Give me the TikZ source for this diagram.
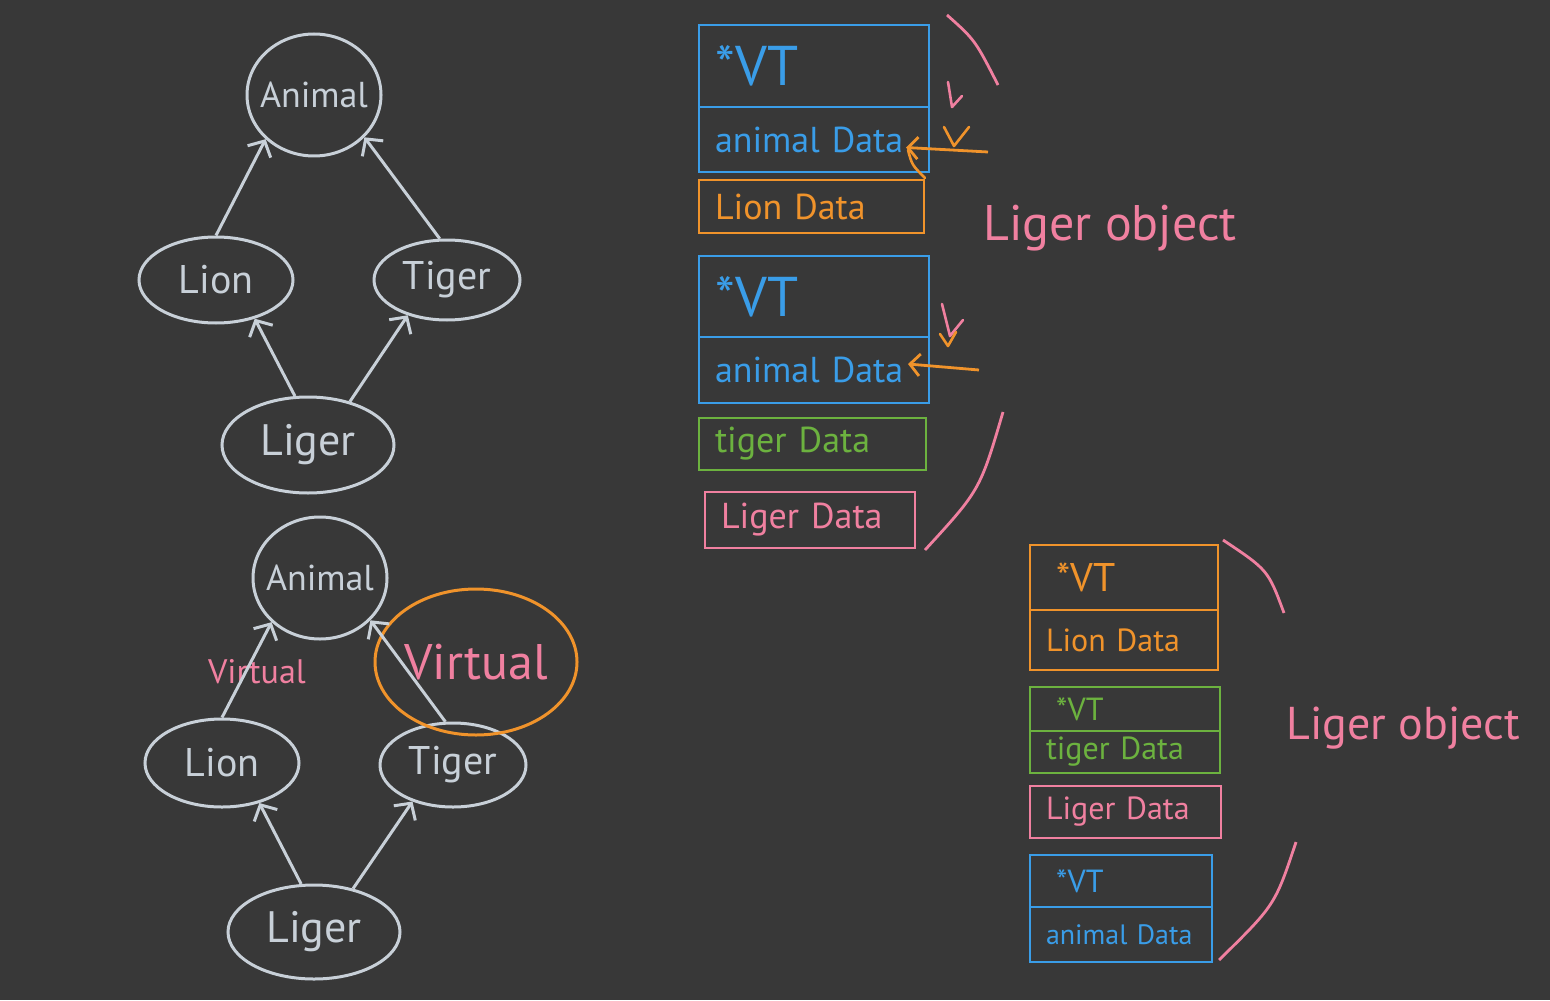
\documentclass[tikz,border=0pt]{standalone}
\usepackage{fontspec}
\setmainfont{PT Sans}
\usetikzlibrary{shapes,positioning,arrows.meta}
\definecolor{board}{HTML}{383838}
\definecolor{chalk}{HTML}{C8D0D8}
\definecolor{blueC}{HTML}{3A9DE8}
\definecolor{orangeC}{HTML}{F0932B}
\definecolor{greenC}{HTML}{6CB23F}
\definecolor{pinkC}{HTML}{F080A0}
\newcommand{\vtbig}{\fontsize{28}{30}\selectfont}
\newcommand{\databig}{\fontsize{18}{20}\selectfont}
\newcommand{\vtsmall}{\fontsize{20}{22}\selectfont}
\newcommand{\datasmall}{\fontsize{16}{18}\selectfont}

\begin{document}
\begin{tikzpicture}[
    x=0.5pt,y=-0.5pt,
    cls/.style={ellipse,draw=chalk,text=chalk,line width=1.5pt,inner xsep=-10pt,inner ysep=0pt,font=\fontsize{20}{24}\selectfont},
    inh/.style={chalk,line width=1.5pt,-{Straight Barb[length=6pt,width=13pt]}},
    cell/.style={rectangle,draw,line width=1.4pt,anchor=north west,outer sep=0pt,inner xsep=8pt,inner ysep=0pt,text width=#1,align=left},
    cell/.default=99pt,
    note/.style={pinkC,font=\fontsize{25}{28}\selectfont},
    brace/.style={pinkC,line width=1.4pt},
    scribble/.style={line width=1.3pt,line cap=round,line join=round},
    ptr/.style={orangeC,line width=1.4pt,-{Straight Barb[length=5pt,width=11pt]}}
    ]
        \useasboundingbox [fill=board] (0,0) rectangle (1550,1000);

        % plain diamond
        \node [cls,minimum width=67pt,minimum height=61pt,font=\fontsize{18}{22}\selectfont](animal) at (314,95) {Animal};
        \node [cls,minimum width=77pt,minimum height=43pt](lion) at (216,280) {Lion};
        \node [cls,minimum width=73pt,minimum height=40pt](tiger) at (447,280) {Tiger};
        \node [cls,minimum width=86pt,minimum height=48pt,font=\fontsize{22}{26}\selectfont](liger) at (308,445) {Liger};
        \draw [inh] (lion.north) -- (animal.south west);
        \draw [inh] (tiger.100) -- (animal.-40);
        \draw [inh] (liger.105) -- (lion.-45);
        \draw [inh] (liger.46) -- (tiger.-138);

        % virtual diamond
        \node [cls,minimum width=67pt,minimum height=61pt,font=\fontsize{18}{22}\selectfont](animal2) at (320,578) {Animal};
        \node [cls,minimum width=77pt,minimum height=44pt](lion2) at (222,763) {Lion};
        \node [cls,minimum width=73pt,minimum height=42pt](tiger2) at (453,765) {Tiger};
        \node [cls,minimum width=86pt,minimum height=47pt,font=\fontsize{22}{26}\selectfont](liger2) at (314,932) {Liger};
        \node [pinkC,font=\fontsize{17}{20}\selectfont](virtA) at (257,672) {Virtual};
        \node [ellipse,draw=orangeC,line width=1.5pt,text=pinkC,inner xsep=-12pt,inner ysep=0pt,minimum width=101pt,minimum height=73pt,font=\fontsize{25}{28}\selectfont](virtB) at (476,662) {Virtual};
        \draw [inh] (lion2.north) -- (animal2.south west);
        \draw [inh] (tiger2.100) -- (animal2.-40);
        \draw [inh] (liger2.105) -- (lion2.-47);
        \draw [inh] (liger2.48) -- (tiger2.-138);

        % first layout
        \node [cell,blueC,minimum height=41pt,font=\vtbig](vtA) at (699,25) {*VT};
        \node [cell,blueC,minimum height=32.5pt,font=\databig](adA) [below=0pt of vtA.south west,anchor=north west] {animal Data};
        \node [cell=96.5pt,orangeC,minimum height=26.5pt,font=\databig](ldA) [below=4pt of adA.south west,anchor=north west] {Lion Data};
        \node [cell,blueC,minimum height=40.5pt,font=\vtbig](vtB) [below=11.5pt of ldA.south west,anchor=north west] {*VT};
        \node [cell,blueC,minimum height=33pt,font=\databig](adB) [below=0pt of vtB.south west,anchor=north west] {animal Data};
        \node [cell=97.5pt,greenC,minimum height=26pt,font=\databig](tdA) [below=7.5pt of adB.south west,anchor=north west] {tiger Data};
        \node [cell=89pt,pinkC,minimum height=28pt,font=\databig](gdA) [below=11pt of tdA.south west,anchor=north west,xshift=3pt] {Liger Data};
        \node [note](objA) at (1110,228) {Liger object};
        \draw [brace] (947,15) .. controls (975,40) .. (998,85);
        \draw [brace] (1003,412) .. controls (980,490) .. (925,550);
        \coordinate (pA) at (988,152);
        \coordinate (pB) at (979,370);
        \draw [ptr] (pA) -- ([xshift=-11.5pt,yshift=-4pt]adA.east);
        \draw [ptr] (pB) -- ([xshift=-10.5pt,yshift=3pt]adB.east);
        \draw [scribble,orangeC] (908,150) .. controls (912,165) .. (925,178);
        \draw [scribble,orangeC] (944,127) -- (954,146) -- (969,127);
        \draw [scribble,pinkC] (948,82) -- (952,107) -- (962,96);
        \draw [scribble,pinkC] (942,304) -- (950,336) -- (963,320);
        \draw [scribble,orangeC] (940,334) -- (948,346) -- (956,332);

        % second layout
        \node [cell=78pt,orangeC,minimum height=32.5pt,font=\vtsmall](vtC) at (1030,545) {\hspace{5pt}*VT};
        \node [cell=78pt,orangeC,minimum height=30pt,font=\datasmall](ldB) [below=0pt of vtC.south west,anchor=north west] {Lion Data};
        \node [cell=79pt,greenC,minimum height=22pt,font=\datasmall](vtD) [below=8.5pt of ldB.south west,anchor=north west] {\hspace{5pt}*VT};
        \node [cell=79pt,greenC,minimum height=21pt,font=\datasmall](tdB) [below=0pt of vtD.south west,anchor=north west] {tiger Data};
        \node [cell=79.5pt,pinkC,minimum height=26pt,font=\datasmall](gdB) [below=6.5pt of tdB.south west,anchor=north west] {Liger Data};
        \node [cell=75pt,blueC,minimum height=26pt,font=\datasmall](vtE) [below=8.5pt of gdB.south west,anchor=north west] {\hspace{5pt}*VT};
        \node [cell=75pt,blueC,minimum height=27.5pt,font=\fontsize{14}{16}\selectfont](adC) [below=0pt of vtE.south west,anchor=north west] {animal Data};
        \node [note,font=\fontsize{23}{26}\selectfont](objB) at (1403,728) {Liger object};
        \draw [brace] (1223,540) .. controls (1268,570) .. (1284,613);
        \draw [brace] (1296,842) .. controls (1275,905) .. (1219,960);
\end{tikzpicture}
\end{document}
